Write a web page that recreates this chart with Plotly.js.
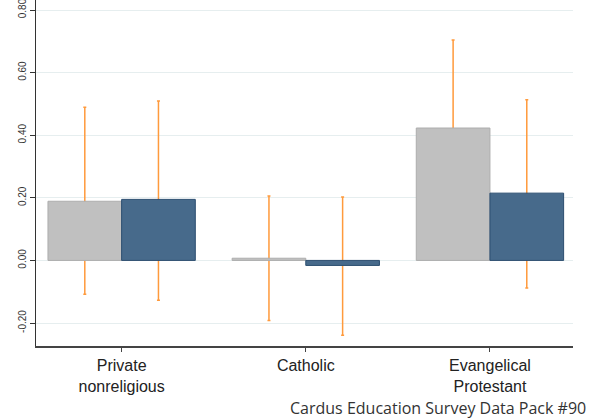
<!DOCTYPE html>
<html>
<head>
<meta charset="utf-8">
<script src="https://cdn.plot.ly/plotly-3.0.1.min.js"></script>
<style>
  html, body { margin: 0; padding: 0; background: #fff; }
  #chart { width: 600px; height: 419px; }
</style>
</head>
<body>
<div id="chart"></div>
<script>
// ---- data ----
var categories = ['Private<br>nonreligious', 'Catholic', 'Evangelical<br>Protestant'];

var grayValues = [0.189, 0.007, 0.423];
var grayLow    = [-0.108, -0.192, 0.142];
var grayHigh   = [0.489, 0.206, 0.704];

var blueValues = [0.195, -0.016, 0.215];
var blueLow    = [-0.127, -0.239, -0.088];
var blueHigh   = [0.509, 0.203, 0.513];

var yTickVals  = [-0.2, 0, 0.2, 0.4, 0.6, 0.8];
var yTickText  = ['-0.20', '0.00', '0.20', '0.40', '0.60', '0.80'];

var footer = 'Cardus Education Survey Data Pack #90';

// ---- styling ----
var errColor = '#FF9A3C';
function plus(v, hi) { return v.map(function (d, i) { return hi[i] - d; }); }
function minus(v, lo) { return v.map(function (d, i) { return d - lo[i]; }); }

function errTrace(vals, lo, hi, offset) {
  return {
    type: 'bar', x: categories, y: vals, offset: offset, width: 0.4,
    marker: { color: 'rgba(0,0,0,0)', line: { width: 0 } },
    error_y: { type: 'data', symmetric: false, array: plus(vals, hi), arrayminus: minus(vals, lo),
               color: errColor, thickness: 1.5, width: 1.5 },
    hoverinfo: 'skip', showlegend: false
  };
}

var traces = [
  errTrace(grayValues, grayLow, grayHigh, -0.4),
  errTrace(blueValues, blueLow, blueHigh, 0),
  { type: 'bar', name: 'Model 1', x: categories, y: grayValues, offset: -0.4, width: 0.4,
    marker: { color: '#C0C0C0', line: { color: '#ADADAD', width: 1 } }, showlegend: false },
  { type: 'bar', name: 'Model 2', x: categories, y: blueValues, offset: 0, width: 0.4,
    marker: { color: '#476A8B', line: { color: '#2C4E70', width: 1 } }, showlegend: false }
];

var layout = {
  width: 600, height: 419,
  margin: { l: 36, r: 27, t: 0, b: 73 },
  paper_bgcolor: '#ffffff', plot_bgcolor: '#ffffff',
  barmode: 'overlay',
  showlegend: false,
  xaxis: {
    type: 'category', range: [-0.465, 2.451],
    showline: true, linecolor: '#444', linewidth: 1.5,
    ticks: 'outside', ticklen: 4, tickcolor: '#444', tickwidth: 1,
    showgrid: false, zeroline: false,
    tickfont: { family: 'Liberation Sans, Arial, sans-serif', size: 16, color: '#222' }
  },
  yaxis: {
    range: [-0.2734, 0.832],
    tickvals: yTickVals, ticktext: yTickText, tickangle: -90,
    ticklabeloverflow: 'allow',
    showline: true, linecolor: '#333', linewidth: 1.5,
    ticks: 'outside', ticklen: 5, tickcolor: '#333', tickwidth: 1,
    showgrid: true, gridcolor: '#E6EEEF', gridwidth: 1, zeroline: false,
    tickfont: { family: 'Liberation Sans, Arial, sans-serif', size: 10, color: '#333' }
  },
  annotations: [{
    text: footer, xref: 'paper', yref: 'paper',
    x: 1.028, xanchor: 'right', y: -0.218, yanchor: 'bottom', showarrow: false,
    font: { family: 'Open Sans, sans-serif', size: 16, color: '#333' }
  }]
};

Plotly.newPlot('chart', traces, layout, { displayModeBar: false, staticPlot: true });
</script>
</body>
</html>
